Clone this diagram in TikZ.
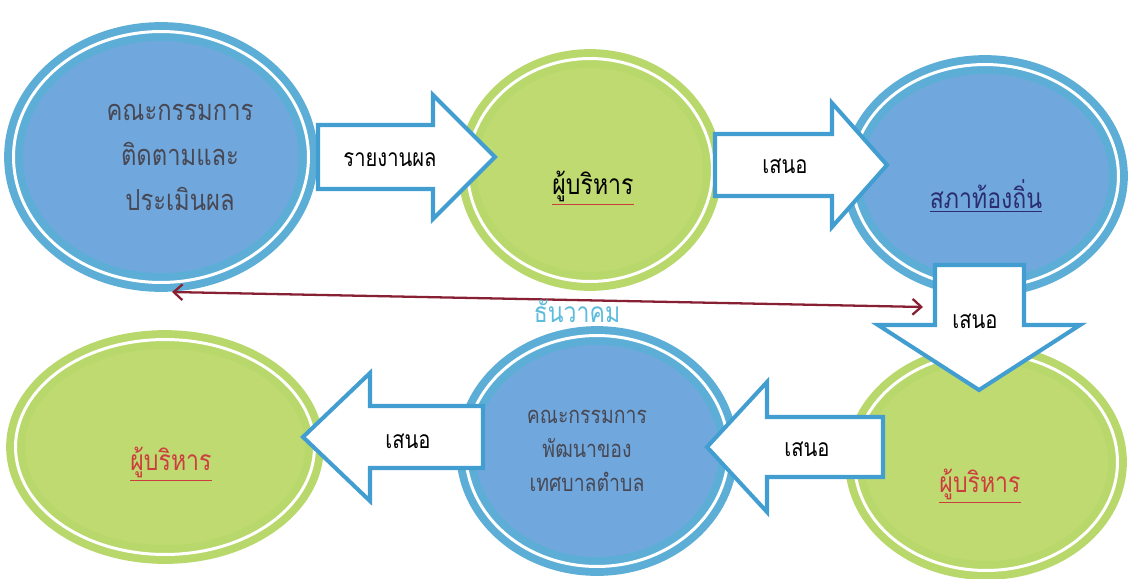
\documentclass[tikz,border=0pt]{standalone}
\usepackage{fontspec}
\newfontfamily\thaifont[Script=Thai, FakeStretch=0.82]{Loma}
\usetikzlibrary{arrows.meta,positioning,calc,shapes.geometric}
\definecolor{skyfill}{RGB}{112,168,222}
\definecolor{skyring}{RGB}{92,174,214}
\definecolor{leaffill}{RGB}{192,218,114}
\definecolor{leafring}{RGB}{184,216,108}
\definecolor{arrowblue}{RGB}{66,158,208}
\definecolor{linkred}{RGB}{136,32,52}
\definecolor{datecyan}{RGB}{92,188,220}
\definecolor{namered}{RGB}{204,62,62}
\definecolor{fadedtext}{RGB}{72,72,84}
\definecolor{navytext}{RGB}{44,44,112}
\tikzset{
  every node/.append style={font=\thaifont},
  ring/.style={ellipse, inner sep=0pt, line width=4.5pt, double=white, double distance=1.7pt},
  bluering/.style={ring, fill=skyfill, draw=skyring},
  greenring/.style={ring, fill=leaffill, draw=leafring},
  blockarrow/.style={draw=arrowblue, fill=white, line width=2.3pt, line join=miter},
  arrowtext/.style={font=\thaifont\fontsize{14}{16}\selectfont, text=black},
  nametext/.style={font=\thaifont\fontsize{16}{18}\selectfont, align=center}
}

\begin{document}
\begin{tikzpicture}[x=0.02cm, y=-0.02cm]
\useasboundingbox[fill=white] (0,0) rectangle (1128,578);

% ellipses
\node[bluering, minimum width=5.9cm, minimum height=5.02cm] (eval) at (161,157) {};
\node[greenring, minimum width=4.9cm, minimum height=4.46cm] (exec1) at (590,170) {};
\node[bluering, minimum width=5.34cm, minimum height=4.46cm] (council) at (985,176) {};
\node[greenring, minimum width=5.26cm, minimum height=4.34cm] (exec2) at (986,462) {};
\node[bluering, minimum width=5.26cm, minimum height=4.62cm] (board) at (597,451) {};
\node[greenring, minimum width=5.98cm, minimum height=4.3cm] (exec3) at (165,447) {};

% texts
\node[nametext, text=fadedtext, font=\thaifont\fontsize{16.5}{25.6}\selectfont] (evaltxt) at (180,157) {คณะกรรมการ\\ติดตามและ\\ประเมินผล};
\node[nametext] (exec1txt) at (593,188) {\color{namered}\underline{\color{black}ผู้บริหาร}};
\node[nametext, text=navytext] (counciltxt) at (986,196) {\underline{สภาท้องถิ่น}};
\node[nametext, text=namered] (exec2txt) at (980,486) {\underline{ผู้บริหาร}};
\node[nametext, text=fadedtext, font=\thaifont\fontsize{13.5}{19.4}\selectfont] (boardtxt) at (587,451) {คณะกรรมการ\\พัฒนาของ\\เทศบาลตำบล};
\node[nametext, text=namered] (exec3txt) at (171,464) {\underline{ผู้บริหาร}};

% block arrows
\draw[blockarrow] (318,125) -- (433,125) -- (433,95) -- (495,157) -- (433,219) -- (433,189) -- (318,189) -- cycle;
\draw[blockarrow] (715,134) -- (832,134) -- (832,103) -- (887,165) -- (832,227) -- (832,196) -- (715,196) -- cycle;
\draw[blockarrow] (935,265) -- (1024,265) -- (1024,325) -- (1080,325) -- (979,390) -- (878,325) -- (935,325) -- cycle;
\draw[blockarrow] (883,417) -- (767,417) -- (767,382) -- (707,447) -- (767,512) -- (767,477) -- (883,477) -- cycle;
\draw[blockarrow] (483,406) -- (370,406) -- (370,373) -- (303,437) -- (370,501) -- (370,468) -- (483,468) -- cycle;

\node[arrowtext] (report) at (390,160) {รายงานผล};
\node[arrowtext] (propose1) at (785,166) {เสนอ};
\node[arrowtext] (propose2) at (975,321) {เสนอ};
\node[arrowtext] (propose3) at (807,449) {เสนอ};
\node[arrowtext] (propose4) at (408,441) {เสนอ};

% time line
\coordinate (dateL) at (172,292);
\coordinate (dateR) at (923,307);
\draw[linkred, line width=1.3pt, {Straight Barb[length=5pt,width=9pt]}-{Straight Barb[length=5pt,width=9pt]}] (dateL) -- (dateR);
\node[text=datecyan, font=\thaifont\fontsize{16}{18}\selectfont] (month) at (577,311) {ธันวาคม};
\end{tikzpicture}
\end{document}
